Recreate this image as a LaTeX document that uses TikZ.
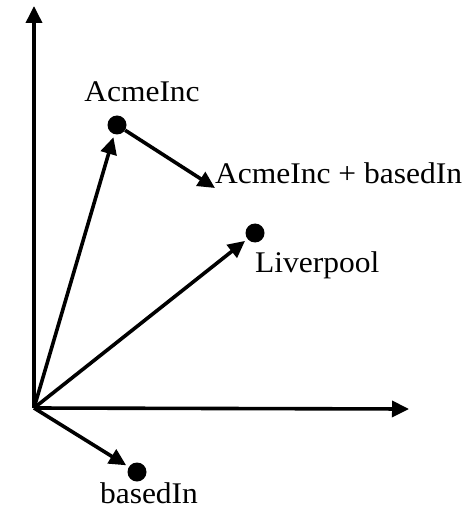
\documentclass[tikz,border=0pt]{standalone}
\usepackage{fontspec}
\setmainfont{Liberation Serif}[FakeStretch=1.05]
\usetikzlibrary{arrows.meta}
\begin{document}
\begin{tikzpicture}[x=1pt,y=-1pt,
  vec/.style={line width=3.6pt,-{Triangle[length=17pt,width=16pt]}},
  pt/.style={circle,fill=black,inner sep=0pt,minimum size=19pt},
  lbl/.style={inner sep=0pt,font=\fontsize{30}{34}\selectfont}]
\useasboundingbox (0,0) rectangle (471,510);
\coordinate (O) at (34,408);
\coordinate (ytop) at (34,6);
\coordinate (xend) at (409,409);
\node[pt] (acme) at (117,125) {};
\node[pt] (liv) at (255,233) {};
\node[pt] (based) at (137,472) {};
\node[lbl,anchor=base] (acmel) at (142,102) {AcmeInc};
\node[lbl,anchor=base west] (sum) at (215,184) {AcmeInc + basedIn};
\node[lbl,anchor=base west] (livl) at (255,272) {Liverpool};
\node[lbl,anchor=base] (basedl) at (149,503) {basedIn};
\coordinate (sumtip) at (215,188);
\draw[vec] (O) -- (ytop);
\draw[vec] (O) -- (xend);
\draw[vec,shorten >=3pt] (O) -- (acme);
\draw[vec,shorten >=3pt] (O) -- (liv);
\draw[vec,shorten >=3pt] (O) -- (based);
\draw[vec] (acme) -- (sumtip);
\end{tikzpicture}
\end{document}
